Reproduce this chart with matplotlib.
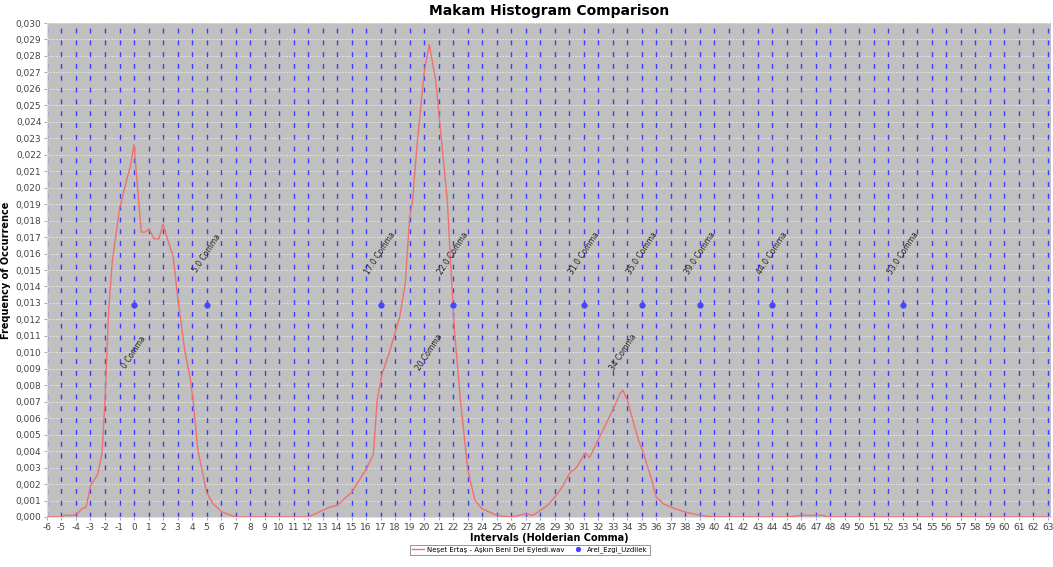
import matplotlib
matplotlib.use("Agg")
import matplotlib.pyplot as plt
from matplotlib.ticker import FuncFormatter, MultipleLocator

# ---- data ----
curve_x = [-6, -5, -4.8, -4.2, -3.9, -3.6, -3.3, -3.0, -2.7, -2.5, -2.2, -2.0, -1.75, -1.5, -1.0,
           -0.5, -0.25, 0.0, 0.5, 0.76, 1.03, 1.38, 1.72, 2.0, 2.3, 2.7, 3.03, 3.5, 3.86, 4.07,
           4.4, 5.0, 5.45, 6.07, 7.0, 12.0, 12.5, 13.0, 13.5, 14.0, 15.0, 16.0, 16.5, 16.76, 17.1,
           17.6, 18.3, 18.7, 19.0, 19.2, 19.5, 20.0, 20.35, 20.8, 21.2, 21.6, 21.8, 22.1, 22.5,
           23.0, 23.5, 24.0, 25.0, 26.0, 27.0, 27.5, 28.0, 28.5, 29.0, 29.5, 30.06, 30.5, 31.1,
           31.4, 32.0, 32.5, 33.0, 33.5, 33.7, 34.0, 34.5, 34.76, 35.1, 35.7, 36.0, 36.5, 37.0,
           38.0, 39.0, 40.0, 45.0, 46.0, 47.5, 47.8, 63.0]
curve_y = [0.0, 0.0, 0.0001, 0.0001, 0.0002, 0.0005, 0.0006, 0.0019, 0.0023, 0.0026, 0.0039, 0.0071,
           0.0125, 0.0155, 0.0187, 0.0205, 0.0213, 0.0226, 0.0173, 0.0173, 0.0175, 0.0169, 0.0169,
           0.0178, 0.0169, 0.0158, 0.0132, 0.0101, 0.0085, 0.0071, 0.0041, 0.0015, 0.0008, 0.0003,
           0.0, 0.0, 0.0002, 0.0004, 0.0006, 0.0007, 0.0015, 0.0029, 0.0038, 0.0071, 0.0087,
           0.0100, 0.0121, 0.0142, 0.0182, 0.0192, 0.0225, 0.0270, 0.0287, 0.0265, 0.0228, 0.0192,
           0.0158, 0.0112, 0.0071, 0.0029, 0.0010, 0.0005, 0.0001, 0.0, 0.0002, 0.0001, 0.0004,
           0.0007, 0.0012, 0.0018, 0.0027, 0.0030, 0.0039, 0.0036, 0.0047, 0.0056, 0.0065, 0.0075,
           0.0077, 0.0071, 0.0055, 0.0047, 0.0039, 0.0022, 0.0012, 0.0008, 0.0006, 0.0003, 0.0001,
           0.0, 0.0, 0.0001, 0.0001, 0.0, 0.0]

scale_x = [0, 5, 17, 22, 31, 35, 39, 44, 53]
scale_y = [0.0129] * len(scale_x)
scale_labels = ["5.0 Comma", "17.0 Comma", "22.0 Comma", "31.0 Comma", "35.0 Comma",
                "39.0 Comma", "44.0 Comma", "53.0 Comma"]
scale_label_x = [5, 17, 22, 31, 35, 39, 44, 53]
scale_label_y = 0.0160

peak_x = [0, 20.35, 33.7]
peak_labels = ["0 Comma", "20 Comma", "34 Comma"]
peak_label_y = 0.0100

series_names = ["Neşet Ertaş - Aşkın Beni Del Eyledi.wav", "Arel_Ezgi_Uzdilek"]
title = "Makam Histogram Comparison"
xlabel = "Intervals (Holderian Comma)"
ylabel = "Frequency of Occurrence"

# ---- figure ----
plt.rcParams['font.family'] = ['DejaVu Sans']
fig = plt.figure(figsize=(10.53, 5.67), dpi=100)
ax = fig.add_axes([0.0446, 0.0882, 0.9534, 0.8712])
ax.set_facecolor("#C0C0C0")

ax.set_xlim(-6, 63.2)
ax.set_ylim(0, 0.030)
ax.xaxis.set_major_locator(MultipleLocator(1))
ax.yaxis.set_major_locator(MultipleLocator(0.001))
ax.yaxis.set_major_formatter(FuncFormatter(lambda v, p: f"{v:.3f}".replace(".", ",")))
ax.xaxis.set_major_formatter(FuncFormatter(lambda v, p: f"{int(round(v))}"))

ax.set_axisbelow(True)
ax.grid(axis='y', color='#E8E8E8', linestyle=(0, (1.5, 1.5)), linewidth=0.7)
for xv in range(-6, 64):
    ax.axvline(xv, color='#3C3CFF', linestyle=(0, (3.5, 5.0)), linewidth=1.0, zorder=1)

ax.plot(curve_x, curve_y, color='#F07070', linewidth=1.0, zorder=3, label=series_names[0])
ax.plot(scale_x, scale_y, linestyle='none', marker='o', markersize=3.5, color='#4545FF',
        zorder=4, label=series_names[1])

for lx, lt in zip(scale_label_x, scale_labels):
    ax.text(lx, scale_label_y, lt, rotation=57, fontsize=5.5, ha='center', va='center',
            color='#222222', zorder=5)
for lx, lt in zip(peak_x, peak_labels):
    ax.text(lx, peak_label_y, lt, rotation=57, fontsize=5.5, ha='center', va='center',
            color='#222222', zorder=5)

for s in ['top', 'right']:
    ax.spines[s].set_visible(False)
ax.spines['left'].set_color('#E0E0E0')
ax.spines['bottom'].set_color('#E0E0E0')
ax.tick_params(axis='both', labelsize=6.5, labelcolor='#444444', color='#999999',
               length=2, width=0.6, pad=2)

ax.set_title(title, fontsize=10, fontweight='bold', pad=6)
ax.set_xlabel(xlabel, fontsize=7, fontweight='bold', labelpad=1)
ax.set_ylabel(ylabel, fontsize=7, fontweight='bold', labelpad=3)

leg = fig.legend(loc='center', bbox_to_anchor=(0.503, 0.030), ncol=2, fontsize=5,
                 frameon=True, fancybox=False, edgecolor='#666666', handlelength=1.8,
                 columnspacing=1.0, borderpad=0.3, handletextpad=0.4, markerscale=0.8)
leg.get_frame().set_linewidth(0.6)

fig.savefig("out.png", dpi=100)
